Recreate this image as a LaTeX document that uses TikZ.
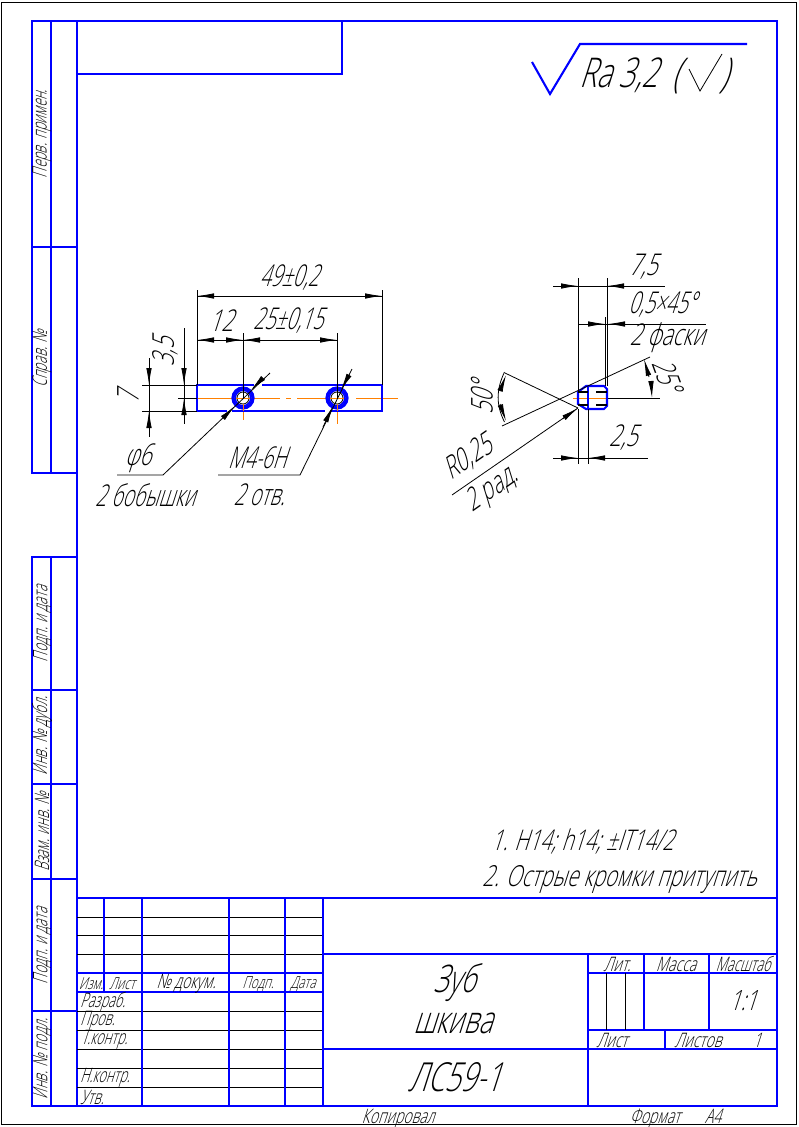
\documentclass[tikz,border=0pt]{standalone}
\usepackage{fontspec}
\usetikzlibrary{arrows.meta}
\newfontfamily\gost[FakeSlant=0.32,FakeStretch=0.70,UprightFont=* Light]{Open Sans}
\newfontfamily\gostn[FakeSlant=0.32,FakeStretch=0.64,UprightFont=* Light]{Open Sans}
\definecolor{bl}{RGB}{0,0,255}
\definecolor{og}{RGB}{255,128,0}
\tikzset{
 x=1pt,y=-1pt,
 bold/.style={draw=bl,line width=2.1pt},
 fine/.style={draw=black,line width=0.8pt},
 axis/.style={draw=og,line width=0.9pt},
 ar/.style={draw=black,line width=0.8pt,-{Latex[length=17pt,width=5.5pt]}},
 tx/.style={inner sep=0pt,text=black,font=\gost\fontsize{#1}{#1}\selectfont},
 txn/.style={inner sep=0pt,text=black,font=\gostn\fontsize{#1}{#1}\selectfont},
 tx/.default=13
}
\newcommand\mytx[4][]{\node[tx=#2,#1] at #3 {#4};}
\newcommand\mytn[4][]{\node[txn=#2,#1] at #3 {#4};}
\begin{document}
\begin{tikzpicture}
\useasboundingbox (0,0) rectangle (798,1127);
\fill[white] (0,0) rectangle (798,1127);
\draw[fine] (1.5,2) rectangle (796,1124);
% frame
\draw[bold] (77,21) rectangle (777,1106);
\draw[bold] (77,74) -- (342,74) -- (342,21);
% side strip
\draw[bold] (77,21) -- (32,21) -- (32,473) -- (77,473);
\draw[bold] (51,21) -- (51,473);
\draw[bold] (32,247) -- (77,247);
\draw[bold] (77,557) -- (32,557) -- (32,1106) -- (77,1106);
\draw[bold] (51,557) -- (51,1106);
\foreach \yy in {690,784,879,1011} \draw[bold] (32,\yy) -- (77,\yy);
% title block
\draw[bold] (77,898) -- (777,898);
\foreach \yy in {917,935,954,1011,1030,1049,1068,1087} \draw[fine] (77,\yy) -- (323,\yy);
\draw[bold] (77,973) -- (323,973);
\draw[bold] (77,992) -- (323,992);
\draw[bold] (104,898) -- (104,992);
\foreach \xx in {142,229,285,323} \draw[bold] (\xx,898) -- (\xx,1106);
\draw[bold] (323,954) -- (777,954);
\draw[bold] (323,1049) -- (777,1049);
\draw[bold] (588,954) -- (588,1106);
\draw[bold] (588,973) -- (777,973);
\draw[bold] (588,1030) -- (777,1030);
\draw[bold] (644,954) -- (644,1030);
\draw[bold] (709,954) -- (709,1030);
\draw[bold] (665,1030) -- (665,1049);
\draw[fine] (606,973) -- (606,1030);
\draw[fine] (625,973) -- (625,1030);
% roughness
\draw[bold] (532,62) -- (550,94) -- (580,44) -- (747,44);
\draw[fine] (689,69) -- (700,91) -- (722,54);
\mytx[anchor=base west]{41}{(579,87)}{Ra 3,2}
\mytx[anchor=base]{41}{(676,87)}{(}
\mytx[anchor=base]{41}{(724,87)}{)}
% bar, front view
\draw[axis] (197,398) -- (280,398);
\draw[axis] (286,398) -- (291,398);
\draw[axis] (297,398) -- (347,398);
\draw[axis] (356,398) -- (398,398);
\draw[axis] (243,411) -- (243,420);
\draw[axis] (337,411) -- (337,424);
\draw[bold] (197,385) rectangle (382,411);
\draw[white,line width=3pt] (254,385) -- (262,385) (227,411) -- (232,411) (325,411) -- (330,411);
\foreach \xx in {243,337}{
 \draw[bl,line width=3.2pt] (\xx,398) circle (10);
 \draw[bl,line width=1.6pt] (\xx,398) circle (7.8);
 \draw[fine] (\xx,398) circle (6);
 \draw[axis] (\xx-7,398) -- (\xx+7,398);
 \draw[axis] (\xx,404) -- (\xx,411);
}
% 49
\draw[fine] (197,290) -- (197,385);
\draw[fine] (382,290) -- (382,385);
\draw[fine] (197,296) -- (382,296);
\draw[ar] (215,296) -- (197,296);
\draw[ar] (364,296) -- (382,296);
\mytn{30}{(289,278)}{49±0,2}
% 12, 25
\draw[fine] (243,333) -- (243,398);
\draw[fine] (337,333) -- (337,398);
\draw[fine] (197,340) -- (337,340);
\draw[ar] (215,340) -- (197,340);
\draw[ar] (225,340) -- (243,340);
\draw[ar] (261,340) -- (243,340);
\draw[ar] (319,340) -- (337,340);
\mytx{30}{(221,321)}{12}
\mytn{30}{(288,321)}{25±0,15}
% 7
\draw[fine] (142,385) -- (197,385);
\draw[fine] (142,411) -- (197,411);
\draw[fine] (149,358) -- (149,437);
\draw[ar] (149,367) -- (149,385);
\draw[ar] (149,429) -- (149,411);
\mytx[rotate=90]{30}{(128,398)}{7}
% 3,5
\draw[fine] (178,398) -- (197,398);
\draw[fine] (184,328) -- (184,424);
\draw[ar] (184,367) -- (184,385);
\draw[ar] (184,416) -- (184,398);
\mytx[rotate=90]{30}{(165,352)}{3,5}
% d6 leader
\draw[fine] (117,475) -- (163,475) -- (270,373);
\draw[ar] (223,418) -- (235,406);
\draw[ar] (263,378) -- (251,390);
\mytx{30}{(138,458)}{φ6}
\mytn{30}{(145,495)}{2 бобышки}
% M4 leader
\draw[fine] (218,475) -- (300,475) -- (352,369);
\draw[ar] (323,427) -- (333,406);
\draw[ar] (349,375) -- (341,390);
\mytn{30}{(257,458)}{М4-6Н}
\mytn{30}{(259,495)}{2 отв.}
% side view
\draw[axis] (573,398) -- (612,398);
\draw[fine] (607,398) -- (660,398);
\draw[bold] (578,392) -- (586,386) -- (604,386) -- (607,389) -- (607,406) -- (604,409) -- (586,409) -- (578,404) -- cycle;
\draw[bold] (588,386) -- (588,409);
\draw[black,line width=1.6pt] (578,392) -- (588,392) (578,405) -- (588,405) (596,392) -- (607,392) (596,405) -- (607,405);
% 7,5
\draw[fine] (578,278) -- (578,392);
\draw[fine] (607,278) -- (607,386);
\draw[fine] (553,286) -- (665,286);
\draw[ar] (560,286) -- (578,286);
\draw[ar] (625,286) -- (607,286);
\mytx{30}{(643,267)}{7,5}
% 0,5x45
\draw[fine] (605,317) -- (605,386);
\draw[fine] (578,324) -- (706,324);
\draw[ar] (587,324) -- (605,324);
\draw[ar] (626,324) -- (608,324);
\mytn{30}{(662,305)}{0,5×45°}
\mytx{30}{(667,338)}{2 фаски}
% 2,5
\draw[fine] (578,409) -- (578,464);
\draw[fine] (588,409) -- (588,464);
\draw[fine] (553,458) -- (648,458);
\draw[ar] (560,458) -- (578,458);
\draw[ar] (606,458) -- (588,458);
\mytx{30}{(623,438)}{2,5}
% angles
\draw[fine] (502,426) -- (650,357);
\draw[fine] (505,373) -- (578,408);
\draw[fine] (504.5,372) .. controls (496,390) and (496,405) .. (504.5,422);
\draw[ar] (500,391) -- (506,375);
\draw[ar] (500,404) -- (506,421);
\mytx[rotate=90]{30}{(482,398)}{50°}
\draw[ar] (649,377) -- (644,359);
\draw[ar] (651,381) -- (652,398);
\mytx[rotate=-70]{30}{(667,375)}{25°}
\draw[fine] (452,495) -- (578,408);
\draw[ar] (563,418.5) -- (578,408);
\mytx[rotate=35]{30}{(468,458)}{R0,25}
\mytx[rotate=35]{30}{(492,490)}{2 рад.}
% notes
\mytx[anchor=base west]{28.5}{(491,850)}{1. Н14; h14; ±IT14/2}
\mytx[anchor=base west]{29}{(482,886)}{2. Острые кромки притупить}
% title text
\mytx{38}{(455,983)}{Зуб}
\mytx{38}{(453,1023)}{шкива}
\mytx{40}{(455,1077)}{ЛС59-1}
\mytx{20}{(617,964)}{Лит.}
\mytx{20}{(676,964)}{Масса}
\mytn{20}{(743,964)}{Масштаб}
\mytx{28}{(743,1001)}{1:1}
\mytx{20}{(612,1040)}{Лист}
\mytx{20}{(698,1040)}{Листов}
\mytx{20}{(757,1040)}{1}
\mytx{16.5}{(91,984)}{Изм.}
\mytx{16.5}{(122,984)}{Лист}
\mytx{20}{(186,984)}{№ докум.}
\mytx{16.5}{(258,984)}{Подп.}
\mytx{16.5}{(303,984)}{Дата}
\mytn[anchor=west]{20}{(80,1002)}{Разраб.}
\mytn[anchor=west]{20}{(80,1021)}{Пров.}
\mytn[anchor=west]{20}{(81,1040)}{Т.контр.}
\mytn[anchor=west]{20}{(80,1078)}{Н.контр.}
\mytn[anchor=west]{20}{(80,1097)}{Утв.}
\mytx[anchor=base]{20}{(398,1123)}{Копировал}
\mytx[anchor=base]{20}{(655,1123)}{Формат}
\mytx[anchor=base]{20}{(713,1123)}{А4}
% strip text
\mytn[rotate=90]{20}{(42,134)}{Перв. примен.}
\mytn[rotate=90]{20}{(42,359)}{Справ. №}
\mytn[rotate=90]{20}{(42,624)}{Подп. и дата}
\mytn[rotate=90]{20}{(42,736)}{Инв. № дубл.}
\mytn[rotate=90]{20}{(42,832)}{Взам. инв. №}
\mytn[rotate=90]{20}{(42,946)}{Подп. и дата}
\mytn[rotate=90]{20}{(42,1059)}{Инв. № подл.}
\end{tikzpicture}
\end{document}
